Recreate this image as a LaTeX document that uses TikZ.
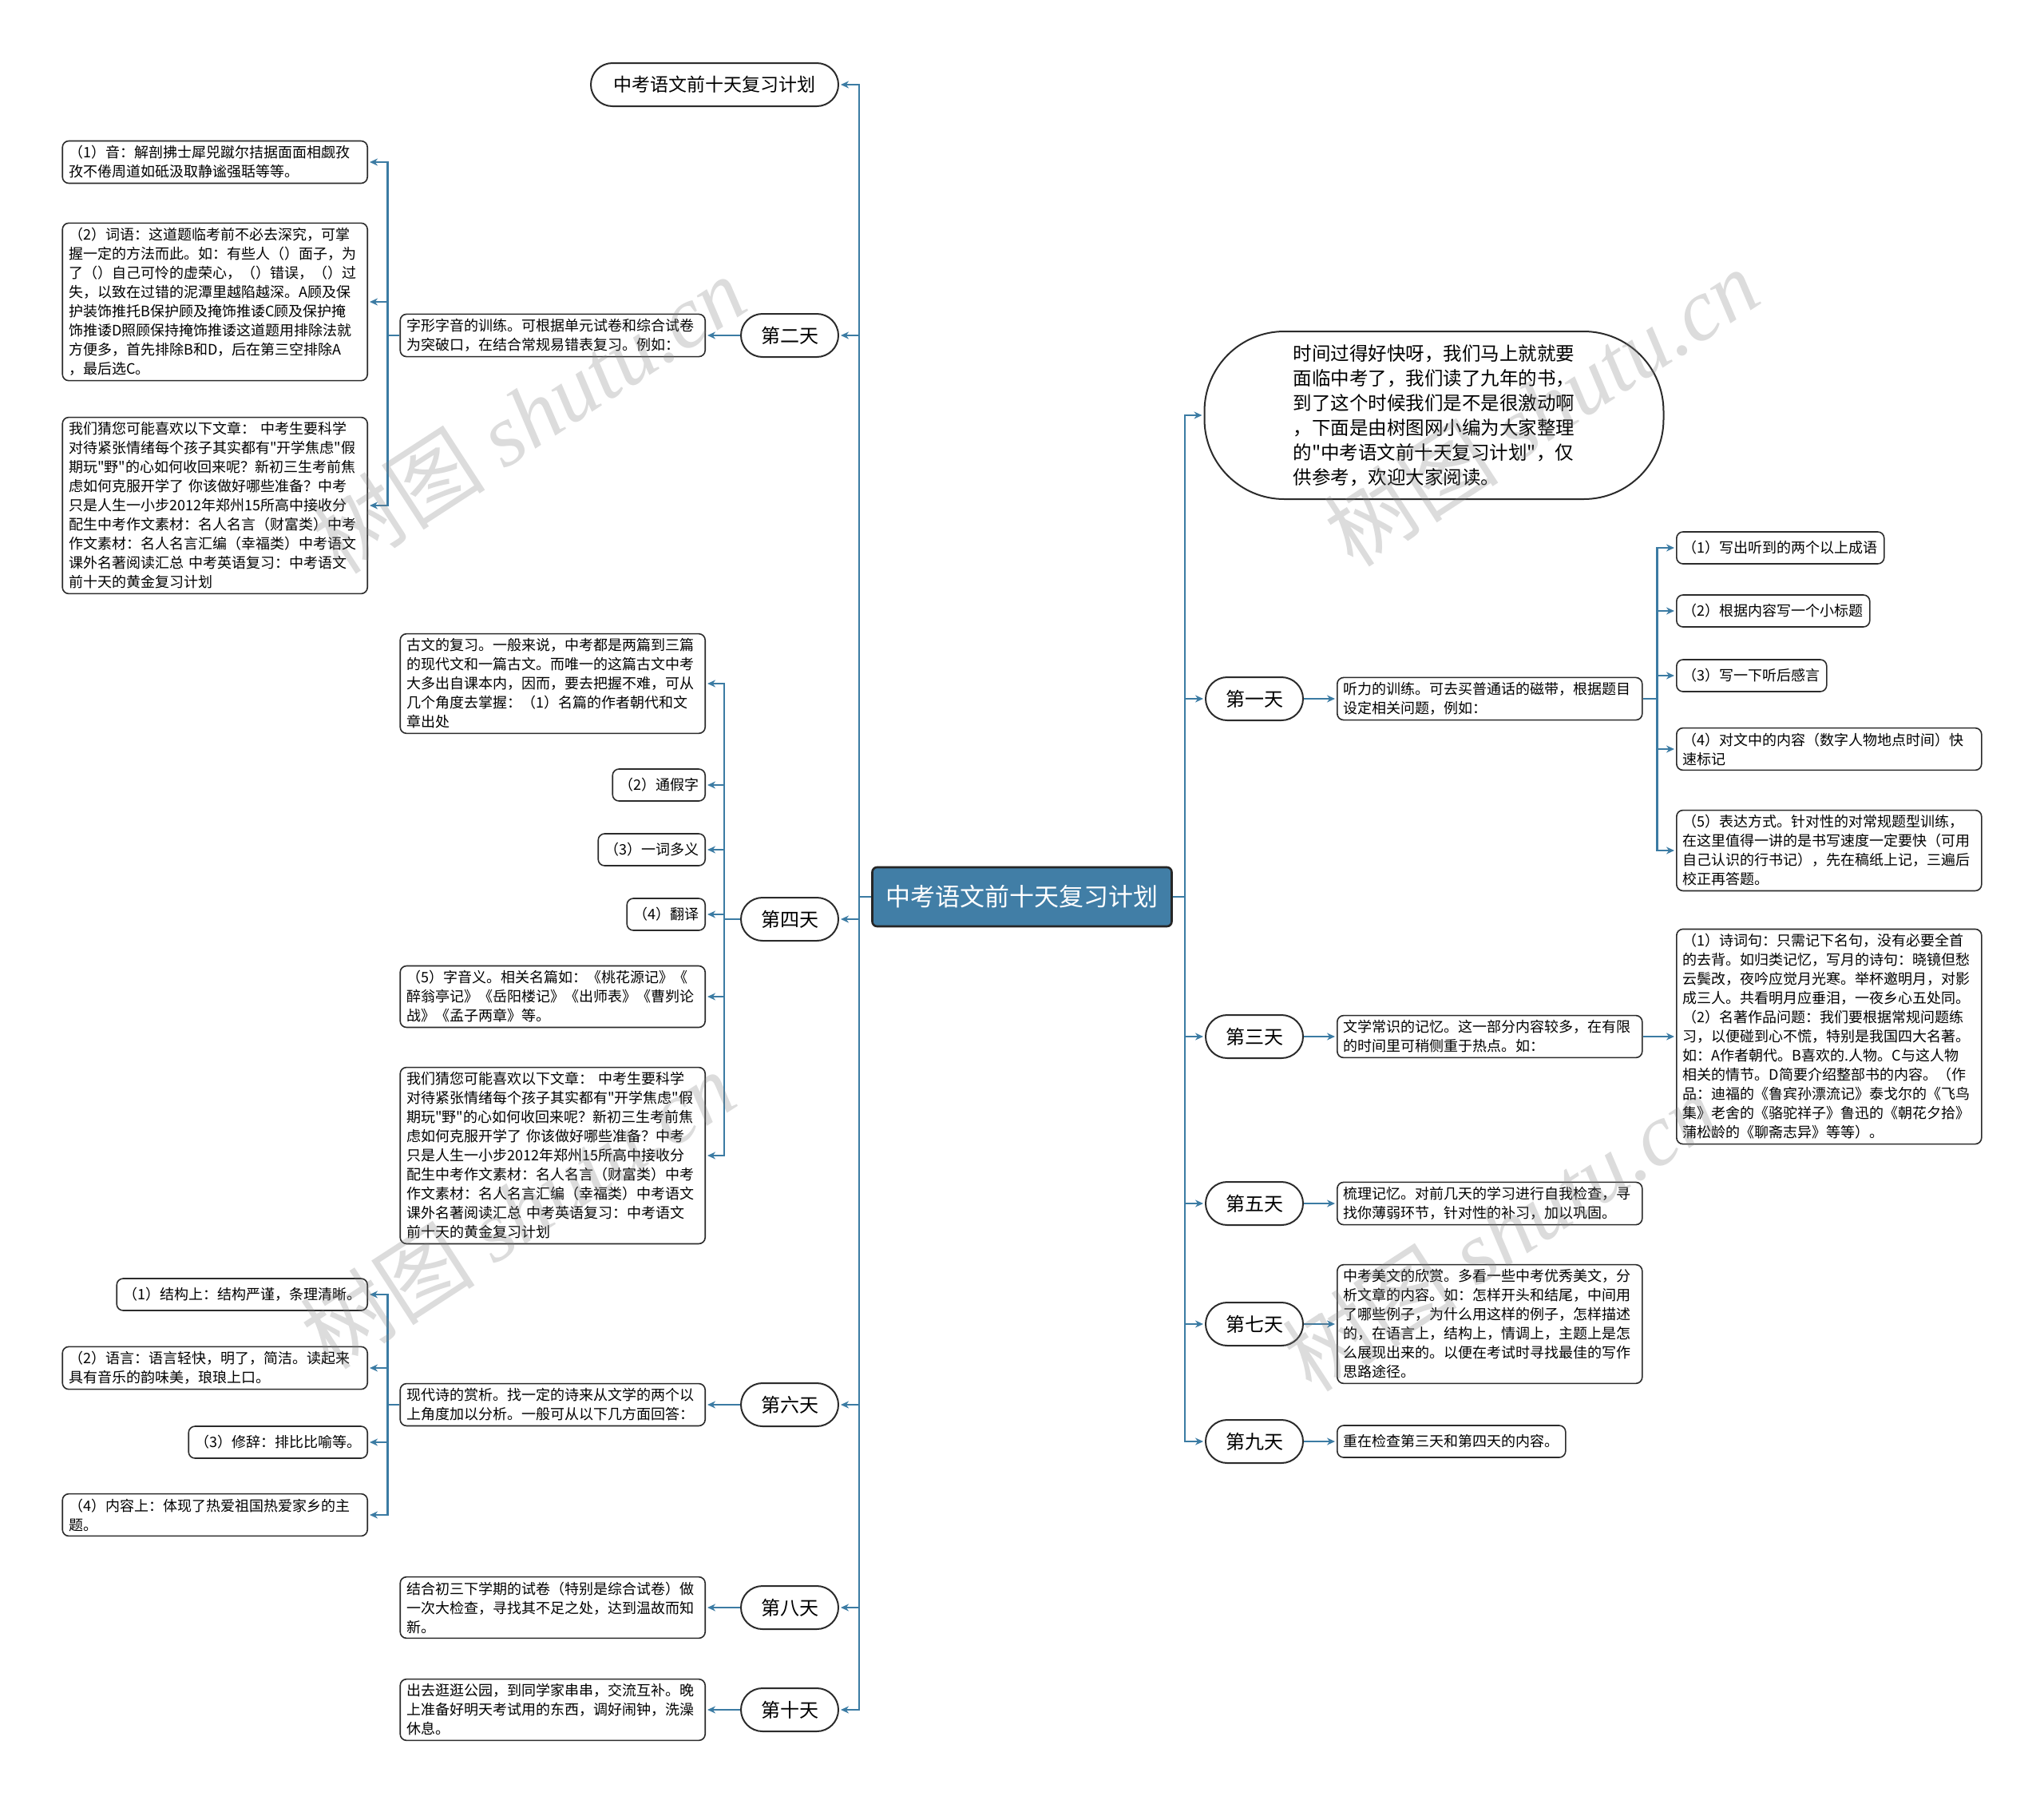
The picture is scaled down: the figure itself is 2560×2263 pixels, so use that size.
\documentclass[tikz,border=0pt]{standalone}
\usepackage{fontspec}
\setmainfont{Noto Sans CJK SC}[Ligatures=TeXOff]
\newfontfamily\wmlatin{Liberation Serif}
\usetikzlibrary{arrows.meta}
\definecolor{linkblue}{HTML}{3B7BA3}
\definecolor{rootblue}{HTML}{417EA6}
\definecolor{boxline}{HTML}{2B2B2B}
\begin{document}
\begin{tikzpicture}[x=1pt,y=-1pt,
  link/.style={draw=linkblue,line width=2.4pt},
  arr/.style={link,-{Stealth[length=10pt,width=9pt]},shorten >=2pt},
  day/.style={draw=boxline,line width=2pt,rounded corners=27pt,minimum width=122pt,minimum height=54pt,font=\fontsize{24}{28}\selectfont},
  note/.style={draw=boxline,line width=1.6pt,rounded corners=8pt,align=left,inner xsep=8pt,inner ysep=6pt,minimum height=40pt,font=\fontsize{18}{24}\selectfont},
  wide/.style={note,text width=366pt},
  root/.style={draw=black!85,line width=2.6pt,rounded corners=6pt,fill=rootblue,text=white,minimum width=375pt,minimum height=74pt,font=\fontsize{31}{36}\selectfont},
  wm/.style={text=gray,text opacity=0.28,font=\fontsize{110}{120}\selectfont,rotate=33}]
\useasboundingbox (0,0) rectangle (2560,2263);
\node [root] (root) at (1280,1123) {中考语文前十天复习计划};
\node [day,minimum width=310pt,font=\fontsize{23}{28}\selectfont] (title) at (895,106) {中考语文前十天复习计划};
\node [day] (d2) at (989,420) {第二天};
\node [day] (d4) at (989,1151) {第四天};
\node [day] (d6) at (989,1759) {第六天};
\node [day] (d8) at (989,2013) {第八天};
\node [day] (d10) at (989,2141) {第十天};
\node [draw=boxline,line width=2pt,rounded corners=100pt,minimum width=575pt,minimum height=210pt,align=left,font=\fontsize{23.5}{31}\selectfont] (intro) at (1796,520) {时间过得好快呀，我们马上就就要\\面临中考了，我们读了九年的书，\\到了这个时候我们是不是很激动啊\\，下面是由树图网小编为大家整理\\的"中考语文前十天复习计划"，仅\\供参考，欢迎大家阅读。};
\node [day] (d1) at (1571,875) {第一天};
\node [day] (d3) at (1571,1298) {第三天};
\node [day] (d5) at (1571,1507) {第五天};
\node [day] (d7) at (1571,1658) {第七天};
\node [day] (d9) at (1571,1805) {第九天};
\foreach \n in {title,d2,d4,d6,d8,d10}
  \draw [arr] (root.west) -- ++(-15,0) |- (\n.east);
\foreach \n in {intro,d1,d3,d5,d7,d9}
  \draw [arr] (root.east) -- ++(15,0) |- (\n.west);
\node [wide,anchor=east] (d2a) at (884,420) {字形字音的训练。可根据单元试卷和综合试卷\\为突破口，在结合常规易错表复习。例如：};
\node [wide,anchor=east] (d2s1) at (461,203) {（1）音：解剖拂士犀兕蹴尔拮据面面相觑孜\\孜不倦周道如砥汲取静谧强聒等等。};
\node [wide,anchor=east] (d2s2) at (461,378) {（2）词语：这道题临考前不必去深究，可掌\\握一定的方法而此。如：有些人（）面子，为\\了（）自己可怜的虚荣心，（）错误，（）过\\失，以致在过错的泥潭里越陷越深。A顾及保\\护装饰推托B保护顾及掩饰推诿C顾及保护掩\\饰推诿D照顾保持掩饰推诿这道题用排除法就\\方便多，首先排除B和D，后在第三空排除A\\，最后选C。};
\node [wide,anchor=east] (d2s3) at (461,633) {我们猜您可能喜欢以下文章： 中考生要科学\\对待紧张情绪每个孩子其实都有"开学焦虑"假\\期玩"野"的心如何收回来呢？新初三生考前焦\\虑如何克服开学了 你该做好哪些准备？中考\\只是人生一小步2012年郑州15所高中接收分\\配生中考作文素材：名人名言（财富类）中考\\作文素材：名人名言汇编（幸福类）中考语文\\课外名著阅读汇总 中考英语复习：中考语文\\前十天的黄金复习计划};
\draw [arr] (d2.west) -- (d2a.east);
\foreach \n in {d2s1,d2s2,d2s3}
  \draw [arr] (d2a.west) -- ++(-15,0) |- (\n.east);
\node [wide,anchor=east] (d4a) at (884,856) {古文的复习。一般来说，中考都是两篇到三篇\\的现代文和一篇古文。而唯一的这篇古文中考\\大多出自课本内，因而，要去把握不难，可从\\几个角度去掌握：（1）名篇的作者朝代和文\\章出处};
\node [note,anchor=east] (d4b) at (884,983) {（2）通假字};
\node [note,anchor=east] (d4c) at (884,1064) {（3）一词多义};
\node [note,anchor=east] (d4d) at (884,1145) {（4）翻译};
\node [wide,anchor=east] (d4e) at (884,1248) {（5）字音义。相关名篇如：《桃花源记》《\\醉翁亭记》《岳阳楼记》《出师表》《曹刿论\\战》《孟子两章》等。};
\node [wide,anchor=east] (d4f) at (884,1447) {我们猜您可能喜欢以下文章： 中考生要科学\\对待紧张情绪每个孩子其实都有"开学焦虑"假\\期玩"野"的心如何收回来呢？新初三生考前焦\\虑如何克服开学了 你该做好哪些准备？中考\\只是人生一小步2012年郑州15所高中接收分\\配生中考作文素材：名人名言（财富类）中考\\作文素材：名人名言汇编（幸福类）中考语文\\课外名著阅读汇总 中考英语复习：中考语文\\前十天的黄金复习计划};
\foreach \n in {d4a,d4b,d4c,d4d,d4e,d4f}
  \draw [arr] (d4.west) -- ++(-20,0) |- (\n.east);
\node [wide,anchor=east] (d6a) at (884,1759) {现代诗的赏析。找一定的诗来从文学的两个以\\上角度加以分析。一般可从以下几方面回答：};
\node [note,anchor=east] (d6s1) at (461,1621) {（1）结构上：结构严谨，条理清晰。};
\node [wide,anchor=east] (d6s2) at (461,1713) {（2）语言：语言轻快，明了，简洁。读起来\\具有音乐的韵味美，琅琅上口。};
\node [note,anchor=east] (d6s3) at (461,1806) {（3）修辞：排比比喻等。};
\node [wide,anchor=east] (d6s4) at (461,1897) {（4）内容上：体现了热爱祖国热爱家乡的主\\题。};
\draw [arr] (d6.west) -- (d6a.east);
\foreach \n in {d6s1,d6s2,d6s3,d6s4}
  \draw [arr] (d6a.west) -- ++(-15,0) |- (\n.east);
\node [wide,anchor=east] (d8a) at (884,2013) {结合初三下学期的试卷（特别是综合试卷）做\\一次大检查，寻找其不足之处，达到温故而知\\新。};
\draw [arr] (d8.west) -- (d8a.east);
\node [wide,anchor=east] (d10a) at (884,2141) {出去逛逛公园，到同学家串串，交流互补。晚\\上准备好明天考试用的东西，调好闹钟，洗澡\\休息。};
\draw [arr] (d10.west) -- (d10a.east);
\node [wide,anchor=west] (d1a) at (1674,875) {听力的训练。可去买普通话的磁带，根据题目\\设定相关问题，例如：};
\node [note,anchor=west] (d1s1) at (2099,686) {（1）写出听到的两个以上成语};
\node [note,anchor=west] (d1s2) at (2099,765) {（2）根据内容写一个小标题};
\node [note,anchor=west] (d1s3) at (2099,846) {（3）写一下听后感言};
\node [wide,anchor=west] (d1s4) at (2099,938) {（4）对文中的内容（数字人物地点时间）快\\速标记};
\node [wide,anchor=west] (d1s5) at (2099,1065) {（5）表达方式。针对性的对常规题型训练，\\在这里值得一讲的是书写速度一定要快（可用\\自己认识的行书记），先在稿纸上记，三遍后\\校正再答题。};
\draw [arr] (d1.east) -- (d1a.west);
\foreach \n in {d1s1,d1s2,d1s3,d1s4,d1s5}
  \draw [arr] (d1a.east) -- ++(18,0) |- (\n.west);
\node [wide,anchor=west] (d3a) at (1674,1298) {文学常识的记忆。这一部分内容较多，在有限\\的时间里可稍侧重于热点。如：};
\node [wide,anchor=west] (d3b) at (2099,1298) {（1）诗词句：只需记下名句，没有必要全首\\的去背。如归类记忆，写月的诗句：晓镜但愁\\云鬓改，夜吟应觉月光寒。举杯邀明月，对影\\成三人。共看明月应垂泪，一夜乡心五处同。\\（2）名著作品问题：我们要根据常规问题练\\习，以便碰到心不慌，特别是我国四大名著。\\如：A作者朝代。B喜欢的.人物。C与这人物\\相关的情节。D简要介绍整部书的内容。（作\\品：迪福的《鲁宾孙漂流记》泰戈尔的《飞鸟\\集》老舍的《骆驼祥子》鲁迅的《朝花夕拾》\\蒲松龄的《聊斋志异》等等）。};
\draw [arr] (d3.east) -- (d3a.west);
\draw [arr] (d3a.east) -- (d3b.west);
\node [wide,anchor=west] (d5a) at (1674,1507) {梳理记忆。对前几天的学习进行自我检查，寻\\找你薄弱环节，针对性的补习，加以巩固。};
\draw [arr] (d5.east) -- (d5a.west);
\node [wide,anchor=west] (d7a) at (1674,1658) {中考美文的欣赏。多看一些中考优秀美文，分\\析文章的内容。如：怎样开头和结尾，中间用\\了哪些例子，为什么用这样的例子，怎样描述\\的，在语言上，结构上，情调上，主题上是怎\\么展现出来的。以便在考试时寻找最佳的写作\\思路途径。};
\draw [arr] (d7.east) -- (d7a.west);
\node [note,anchor=west] (d9a) at (1674,1805) {重在检查第三天和第四天的内容。};
\draw [arr] (d9.east) -- (d9a.west);
\node [wm] (wm1) at (661,519) {树图 {\wmlatin\itshape shutu.cn}};
\node [wm] (wm2) at (1930,510) {树图 {\wmlatin\itshape shutu.cn}};
\node [wm] (wm3) at (648,1515) {树图 {\wmlatin\itshape shutu.cn}};
\node [wm] (wm4) at (1878,1543) {树图 {\wmlatin\itshape shutu.cn}};
\end{tikzpicture}
\end{document}
